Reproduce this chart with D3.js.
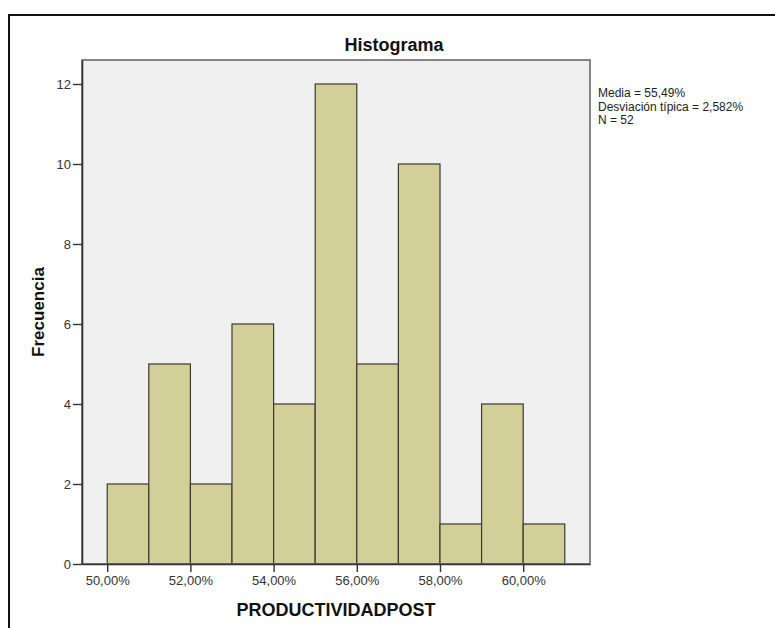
<!DOCTYPE html>
<html>
<head>
<meta charset="utf-8">
<script src="https://cdn.jsdelivr.net/npm/d3@7"></script>
<style>
  html, body { margin: 0; padding: 0; background: #fff; }
  svg { display: block; font-family: Arial, "Liberation Sans", sans-serif; }
</style>
</head>
<body>
<svg id="chart" width="775" height="628"></svg>
<script>
// ---- data ----
const binStarts = [50, 51, 52, 53, 54, 55, 56, 57, 58, 59, 60];
const binWidth = 1;
const counts = [2, 5, 2, 6, 4, 12, 5, 10, 1, 4, 1];
const xTickValues = [50, 52, 54, 56, 58, 60];
const yTickValues = [0, 2, 4, 6, 8, 10, 12];
const statsLines = ["Media = 55,49%", "Desviación típica = 2,582%", "N = 52"];
const titleText = "Histograma";
const xLabel = "PRODUCTIVIDADPOST";
const yLabel = "Frecuencia";

// ---- layout ----
const svg = d3.select("#chart");
const plot = { left: 82, right: 590, top: 60, bottom: 564 };
const xPad = 0.606;

const x = d3.scaleLinear()
  .domain([d3.min(binStarts) - xPad, d3.max(binStarts) + binWidth + xPad])
  .range([plot.left, plot.right]);
const y = d3.scaleLinear()
  .domain([0, 12.6])
  .range([plot.bottom, plot.top]);

// outer frame (extends beyond the visible window on right/bottom)
svg.append("rect")
  .attr("x", 9).attr("y", 15)
  .attr("width", 775).attr("height", 640)
  .attr("fill", "#fff").attr("stroke", "#111").attr("stroke-width", 2);

// plot background
svg.append("rect")
  .attr("x", plot.left).attr("y", plot.top)
  .attr("width", plot.right - plot.left).attr("height", plot.bottom - plot.top)
  .attr("fill", "#f0f0f0");

// bars
svg.append("g").selectAll("rect")
  .data(binStarts.map((b, i) => ({ b, c: counts[i] })))
  .join("rect")
  .attr("x", d => x(d.b))
  .attr("y", d => y(d.c))
  .attr("width", d => x(d.b + binWidth) - x(d.b))
  .attr("height", d => y(0) - y(d.c))
  .attr("fill", "#d3cf98")
  .attr("stroke", "#3a3a32")
  .attr("stroke-width", 1.2);

// plot border
svg.append("rect")
  .attr("x", plot.left).attr("y", plot.top)
  .attr("width", plot.right - plot.left).attr("height", plot.bottom - plot.top)
  .attr("fill", "none").attr("stroke", "#6a6a6a").attr("stroke-width", 1.6);

// axes
const fmt = d => d3.format(".2f")(d).replace(".", ",") + "%";
const xAxis = svg.append("g")
  .attr("transform", `translate(0,${plot.bottom})`)
  .call(d3.axisBottom(x).tickValues(xTickValues).tickFormat(fmt).tickSize(8).tickPadding(4).tickSizeOuter(0));
const yAxis = svg.append("g")
  .attr("transform", `translate(${plot.left},0)`)
  .call(d3.axisLeft(y).tickValues(yTickValues).tickFormat(d3.format("d")).tickSize(9).tickPadding(2).tickSizeOuter(0));

[xAxis, yAxis].forEach(g => {
  g.select(".domain").attr("stroke", "#333").attr("stroke-width", 1.6);
  g.selectAll(".tick line").attr("stroke", "#333").attr("stroke-width", 1.4);
  g.selectAll(".tick text")
    .attr("fill", "#333")
    .style("font-family", "Arial, 'Liberation Sans', sans-serif")
    .style("font-size", "13px");
});

// title
svg.append("text")
  .attr("x", 394).attr("y", 51)
  .attr("text-anchor", "middle")
  .style("font-size", "18px").style("font-weight", "bold")
  .attr("fill", "#111")
  .text(titleText);

// x label
svg.append("text")
  .attr("x", (plot.left + plot.right) / 2).attr("y", 616)
  .attr("text-anchor", "middle")
  .style("font-size", "18px").style("font-weight", "bold")
  .attr("fill", "#111")
  .text(xLabel);

// y label
svg.append("text")
  .attr("transform", `translate(44,${(plot.top + plot.bottom) / 2}) rotate(-90)`)
  .attr("text-anchor", "middle")
  .style("font-size", "17px").style("font-weight", "bold")
  .attr("fill", "#111")
  .text(yLabel);

// stats annotation
svg.append("g").selectAll("text")
  .data(statsLines)
  .join("text")
  .attr("x", 598)
  .attr("y", (d, i) => 97 + i * 13.5)
  .style("font-size", "12px")
  .attr("fill", "#222")
  .text(d => d);
</script>
</body>
</html>
